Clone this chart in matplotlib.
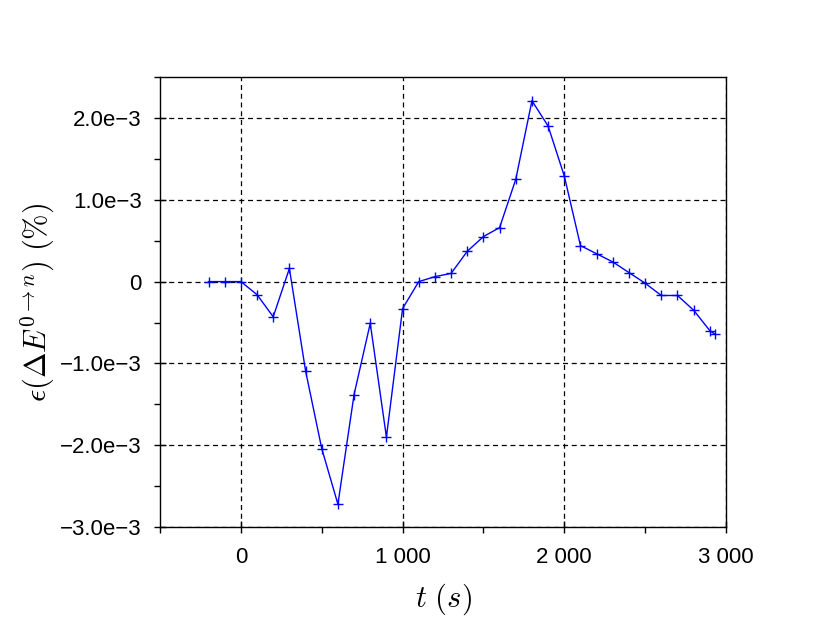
import numpy as np
import matplotlib.pyplot as plt
from matplotlib.ticker import FuncFormatter, MultipleLocator

plt.rcParams['mathtext.fontset'] = 'cm'
plt.rcParams['font.family'] = ['Liberation Sans', 'DejaVu Sans']

#Data (time in s, relative error in %)
t = [-200, -100, 0, 100, 200, 300, 400, 500, 600, 700, 800, 900, 1000,
     1100, 1200, 1300, 1400, 1500, 1600, 1700, 1800, 1900, 2000, 2100,
     2200, 2300, 2400, 2500, 2600, 2700, 2800, 2900, 2930]
eps = [0.0, 0.0, 0.0, -0.16, -0.43, 0.16, -1.09, -2.04, -2.72, -1.38,
       -0.51, -1.90, -0.33, 0.0, 0.06, 0.10, 0.37, 0.55, 0.66, 1.25,
       2.21, 1.90, 1.29, 0.44, 0.34, 0.24, 0.11, -0.02, -0.17, -0.17,
       -0.35, -0.60, -0.64]
eps = np.array(eps) * 1e-3

#Figure
fig = plt.figure(figsize=(8.3, 6.26), dpi=100)
ax = fig.add_axes([0.1928, 0.158, 0.6819, 0.719])
ax.plot(t, eps, color='blue', lw=1, marker='+', ms=7, mew=1)

ax.set_xlim(-500, 3000)
ax.set_ylim(-3e-3, 2.5e-3)
ax.xaxis.set_major_locator(MultipleLocator(1000))
ax.xaxis.set_minor_locator(MultipleLocator(500))
ax.yaxis.set_major_locator(MultipleLocator(1e-3))
ax.yaxis.set_minor_locator(MultipleLocator(0.5e-3))

def fmt_x(v, pos):
  s = '{:,.0f}'.format(v).replace(',', ' ')
  return s.replace('-', '\u2212')

def fmt_y(v, pos):
  if abs(v) < 1e-12:
    return '0'
  return '{:.1f}e\u22123'.format(v * 1e3).replace('-', '\u2212')

ax.xaxis.set_major_formatter(FuncFormatter(fmt_x))
ax.yaxis.set_major_formatter(FuncFormatter(fmt_y))
ax.tick_params(which='major', direction='inout', length=8, width=1, labelsize=16, pad=9)
ax.tick_params(axis='x', which='major', pad=10)
ax.tick_params(which='minor', direction='out', length=4, width=1)
ax.tick_params(top=False, right=False)

ax.grid(True, which='major', color='black', linestyle=(0, (4, 3)), lw=0.9)
for sp in ax.spines.values():
  sp.set_linewidth(1)

ax.set_xlabel(r'$t\ (s)$', fontsize=22, labelpad=10)
ax.set_ylabel(r'$\epsilon(\Delta E^{0 \to n})\ (\%)$', fontsize=22, labelpad=2)

fig.savefig('out.png', dpi=100)
